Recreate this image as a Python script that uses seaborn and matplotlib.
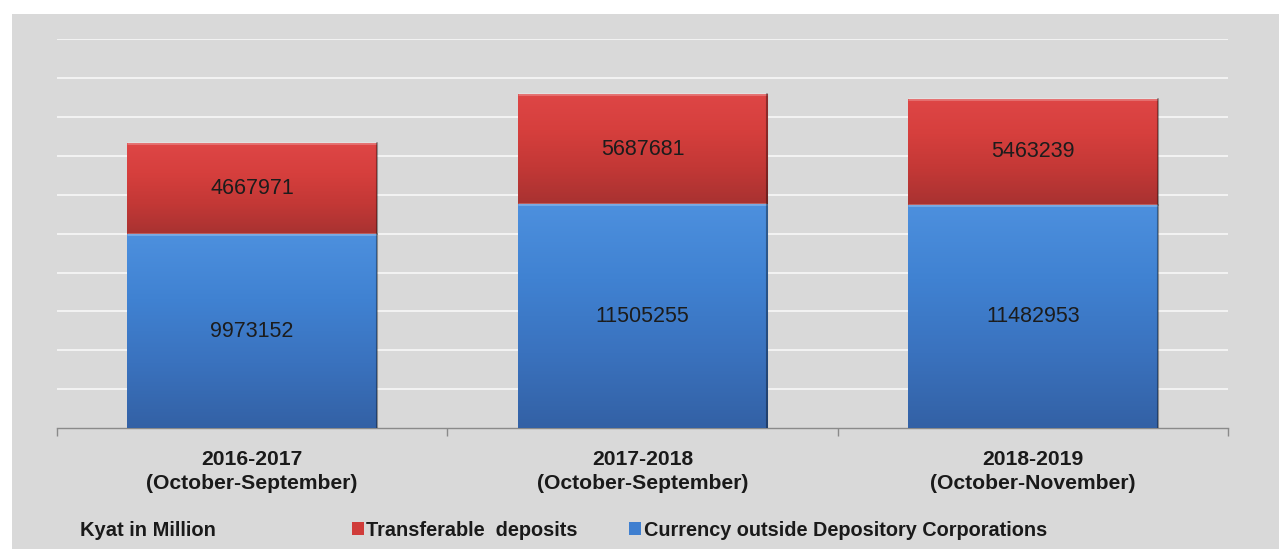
import numpy as np
import pandas as pd
import matplotlib
matplotlib.use("Agg")
import matplotlib.pyplot as plt
from matplotlib.patches import Rectangle, Patch
from matplotlib.colors import LinearSegmentedColormap
import seaborn as sns

# Broad money components, Kyat in Million
periods = ["2016-2017\n(October-September)",
           "2017-2018\n(October-September)",
           "2018-2019\n(October-November)"]
currency_outside = [9973152, 11505255, 11482953]
transferable_deposits = [4667971, 5687681, 5463239]
series_names = ["Transferable  deposits", "Currency outside Depository Corporations"]
unit_label = "Kyat in Million"

RED = "#d03c3a"
BLUE = "#3f7fd0"
PANEL = "#d9d9d9"

df = pd.DataFrame({
    "period": periods,
    "currency": currency_outside,
    "deposits": transferable_deposits,
})
df["total"] = df["currency"] + df["deposits"]

sns.set_theme(style="white")
plt.rcParams["font.family"] = ["Liberation Sans", "DejaVu Sans"]

W, H = 1279, 553
fig = plt.figure(figsize=(W / 100, H / 100), dpi=100, facecolor="white")

# grey chart panel
fig.patches.append(Rectangle((12 / W, 4 / H), (W - 12) / W, (H - 14 - 4) / H,
                             transform=fig.transFigure, facecolor=PANEL,
                             edgecolor="none", zorder=-10))

ax = fig.add_axes([57 / W, (H - 428) / H, (1228 - 57) / W, (428 - 39.3) / H])
ax.set_facecolor("none")

# stacked bars: totals in red, currency on top of them in blue
sns.barplot(data=df, x="period", y="total", color=RED, width=0.64,
            saturation=1, ax=ax, zorder=2)
n_red = len(ax.patches)
sns.barplot(data=df, x="period", y="currency", color=BLUE, width=0.64,
            saturation=1, ax=ax, zorder=3)
red_bars = ax.patches[:n_red]
blue_bars = ax.patches[n_red:]

ax.set_xlim(-0.5, 2.5)
ax.set_ylim(0, 20_000_000)

red_cmap = LinearSegmentedColormap.from_list("r", ["#de4646", "#d63f3d", "#c33836", "#a83231"])
blue_cmap = LinearSegmentedColormap.from_list("b", ["#4d90de", "#4082d2", "#3a72be", "#3361a5"])
grad = np.linspace(0, 1, 256).reshape(-1, 1)


def shade(patch, y0, y1, cmap, z):
    x0 = patch.get_x()
    w = patch.get_width()
    im = ax.imshow(grad, cmap=cmap, aspect="auto", origin="upper",
                   extent=(x0, x0 + w, y0, y1), zorder=z, interpolation="bilinear")
    im.set_clip_path(patch)
    # bevelled top edge and darker right edge
    ax.plot([x0, x0 + w], [y1, y1], color="white", alpha=0.25, lw=2.0,
            zorder=z + 0.05, solid_capstyle="butt", clip_path=patch)
    ax.plot([x0 + w, x0 + w], [y0, y1], color="black", alpha=0.35, lw=1.5,
            zorder=z + 0.05, clip_path=patch)


for p, cur, tot in zip(red_bars, df["currency"], df["total"]):
    p.set_edgecolor("none")
    shade(p, cur, tot, red_cmap, 2.1)
for p, cur in zip(blue_bars, df["currency"]):
    p.set_edgecolor("none")
    shade(p, 0, cur, blue_cmap, 3.1)

# value labels centred in each segment
for i, (cur, dep) in enumerate(zip(currency_outside, transferable_deposits)):
    ax.text(i, cur / 2, f"{cur}", ha="center", va="center", fontsize=15.5,
            color="#1c1c1c", zorder=6)
    ax.text(i, cur + dep / 2, f"{dep}", ha="center", va="center", fontsize=15.5,
            color="#1c1c1c", zorder=6)

# gridlines every 2 million, no value axis labels
for y in range(2_000_000, 20_000_001, 2_000_000):
    ax.axhline(y, color="#f3f3f3", lw=1.4, zorder=1)
ax.set_yticks([])
ax.set_ylabel("")
ax.set_xlabel("")

for side in ["top", "right", "left"]:
    ax.spines[side].set_visible(False)
ax.spines["bottom"].set_color("#8a8a8a")
ax.spines["bottom"].set_linewidth(1.0)

ax.set_xticks([0, 1, 2])
ax.set_xticklabels(periods, fontsize=15.2, fontweight="bold", color="#1a1a1a",
                   linespacing=1.3)
ax.set_xticks([-0.5, 0.5, 1.5, 2.5], minor=True)
ax.tick_params(axis="x", which="major", length=0, pad=16)
ax.tick_params(axis="x", which="minor", length=6, width=1, color="#8a8a8a",
               direction="out", bottom=True)

# legend row
fig.text(80 / W, 1 - 530 / H, unit_label, fontsize=14.5, fontweight="bold",
         color="#1a1a1a", ha="left", va="center")
handles = [Patch(facecolor=RED, edgecolor="none"),
           Patch(facecolor=BLUE, edgecolor="none")]
fig.legend(handles, series_names, loc="center left",
           bbox_to_anchor=(352 / W, 1 - 530 / H), ncol=2, frameon=False,
           prop={"weight": "bold", "size": 14.3}, handlelength=0.6,
           handleheight=0.6, handletextpad=0.12, columnspacing=2.6,
           borderaxespad=0, borderpad=0)
for t in fig.legends[0].get_texts():
    t.set_color("#1a1a1a")

fig.savefig("out.png", dpi=100, facecolor="white")
